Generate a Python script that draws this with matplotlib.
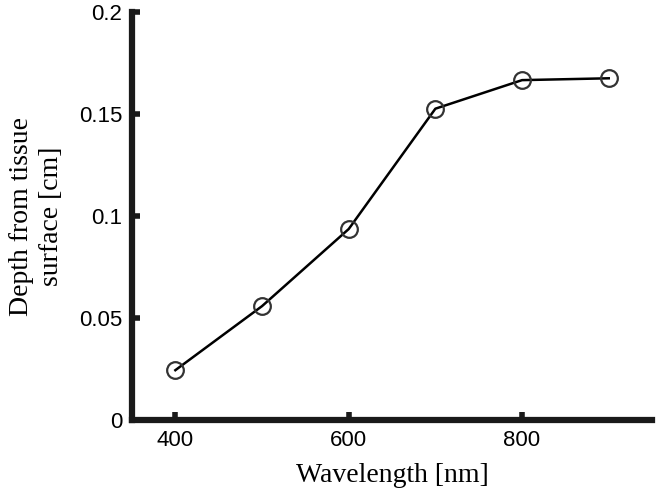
import matplotlib
matplotlib.use("Agg")
import matplotlib.pyplot as plt

# ============================================
# DATA
# ============================================

wavelength = [400, 500, 600, 700, 800, 900]
depth = [0.0245, 0.0559, 0.0937, 0.1527, 0.1667, 0.1676]

x_ticks = [400, 600, 800]
y_ticks = [0, 0.05, 0.1, 0.15, 0.2]
y_tick_labels = ["0", "0.05", "0.1", "0.15", "0.2"]

# ============================================
# PLOT
# ============================================

fig = plt.figure(figsize=(6.6, 4.88), dpi=100)
ax = fig.add_axes([0.2, 0.139, 0.788, 0.836])

ax.plot(
    wavelength,
    depth,
    color="black",
    linewidth=1.8,
    marker="o",
    markersize=12,
    markerfacecolor="none",
    markeredgecolor="#333333",
    markeredgewidth=1.6,
)

ax.set_xlim(350, 950)
ax.set_ylim(0, 0.2)
ax.set_xticks(x_ticks)
ax.set_yticks(y_ticks)
ax.set_yticklabels(y_tick_labels)

for side in ["top", "right"]:
    ax.spines[side].set_visible(False)
for side in ["left", "bottom"]:
    ax.spines[side].set_linewidth(4.5)
    ax.spines[side].set_color("#1a1a1a")
    ax.spines[side].set_capstyle("projecting")

ax.tick_params(direction="in", length=6, width=4, color="#1a1a1a",
               labelsize=16, pad=7)
for lbl in ax.get_xticklabels() + ax.get_yticklabels():
    lbl.set_family(["Liberation Sans", "DejaVu Sans"])

ax.set_xlabel("Wavelength [nm]", family=["Liberation Serif", "DejaVu Serif"],
              fontsize=20, labelpad=9)
ax.set_ylabel("Depth from tissue\nsurface [cm]",
              family=["Liberation Serif", "DejaVu Serif"],
              fontsize=20, labelpad=11, linespacing=1.25)

fig.savefig("out.png", dpi=100)
plt.close(fig)
